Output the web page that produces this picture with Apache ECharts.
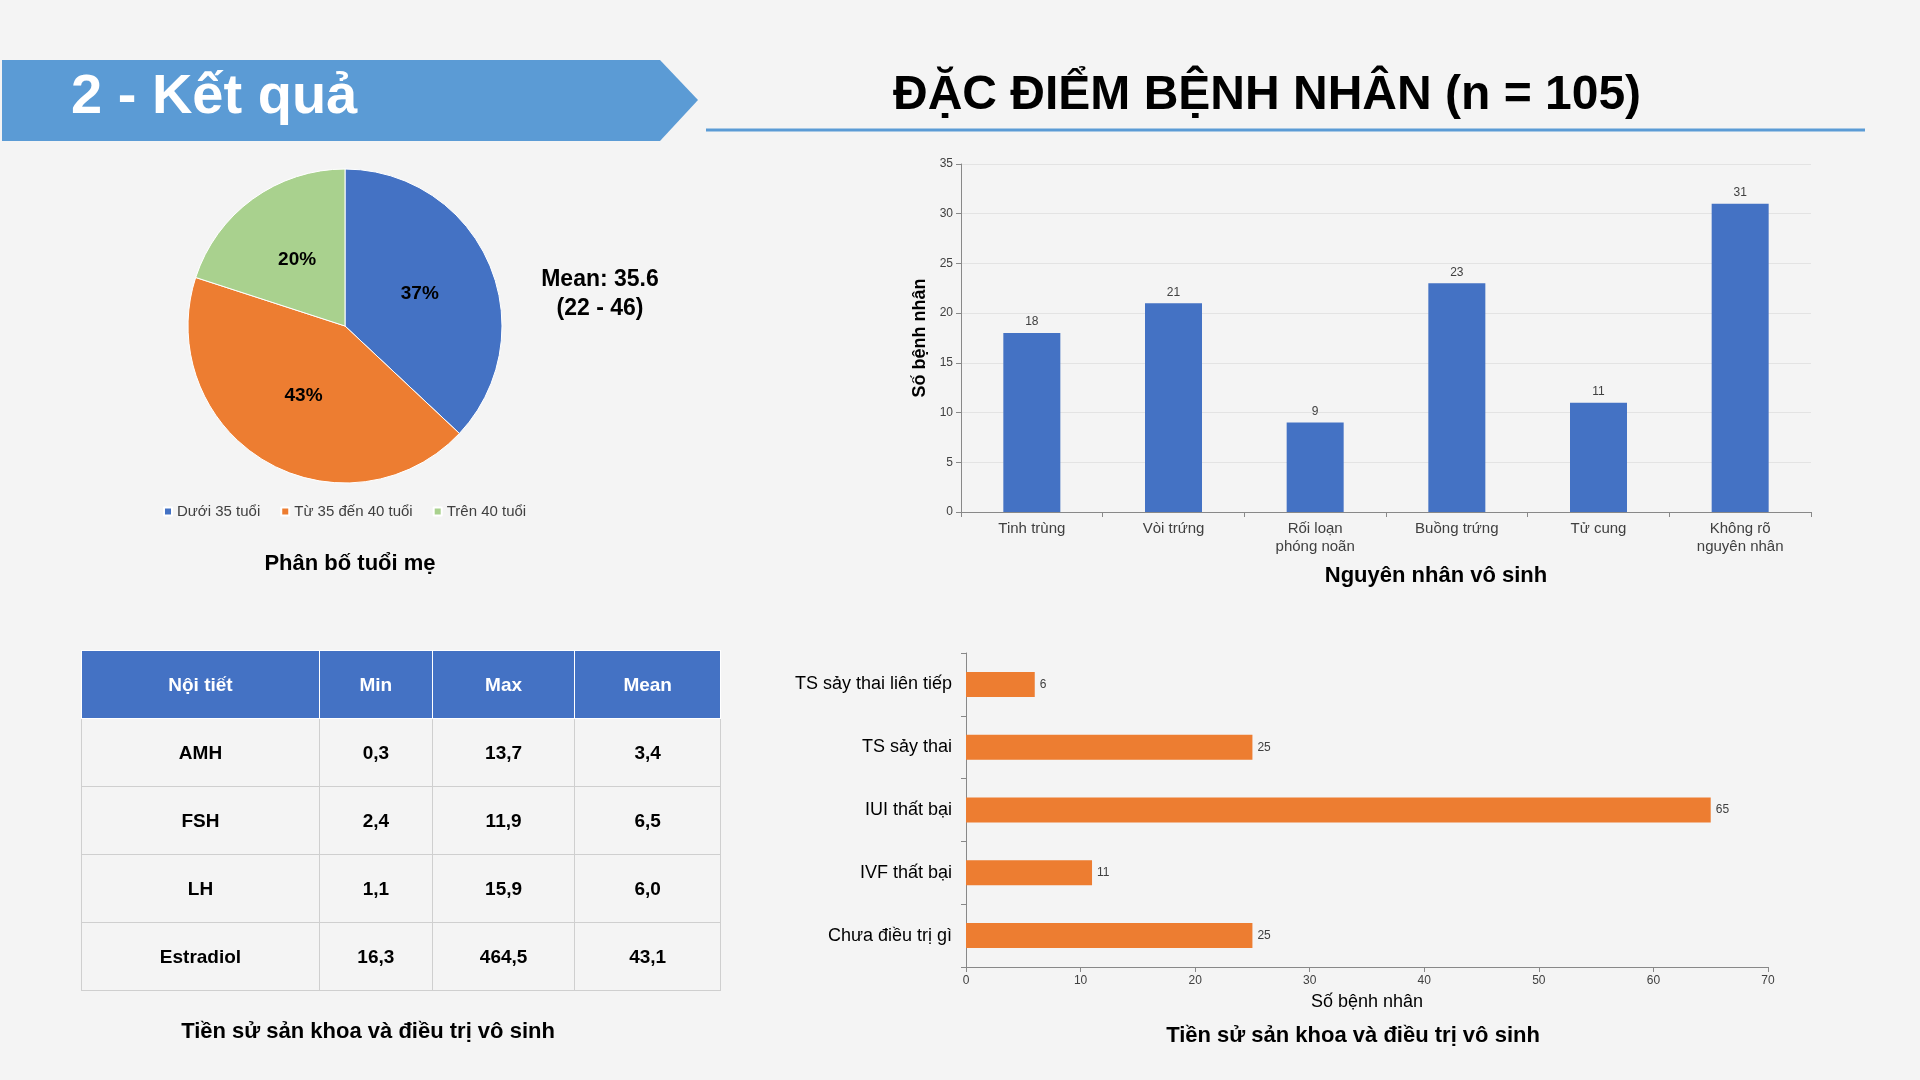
<!DOCTYPE html>
<html>
<head>
<meta charset="utf-8">
<script src="https://cdn.jsdelivr.net/npm/echarts@6/dist/echarts.min.js"></script>
<style>
  html, body { margin: 0; padding: 0; background: #f4f4f4; font-family: "Liberation Sans", Arial, sans-serif; }
  #main { position: absolute; left: 0; top: 0; width: 1920px; height: 1080px; }
  #tbl { position: absolute; left: 81px; top: 650px; width: 640px; border-collapse: collapse; font-size: 19px; }
  #tbl td, #tbl th { border: 1px solid #cfcfcf; height: 65px; text-align: center; color: #000; font-weight: bold; }
  #tbl th { background: #4472c4; color: #fff; border-color: #fff; }
</style>
</head>
<body>
<div id="main"></div>
<table id="tbl"></table>
<script type="text/javascript">
    // dữ liệu
    var ageNames = ['Dưới 35 tuổi', 'Từ 35 đến 40 tuổi', 'Trên 40 tuổi'];
    var ageValues = [37, 43, 20];
    var causeNames = ['Tinh trùng', 'Vòi trứng', 'Rối loạn\nphóng noãn', 'Buồng trứng', 'Tử cung', 'Không rõ\nnguyên nhân'];
    var causeValues = [18, 21, 9, 23, 11, 31];
    var historyNames = ['Chưa điều trị gì', 'IVF thất bại', 'IUI thất bại', 'TS sảy thai', 'TS sảy thai liên tiếp'];
    var historyValues = [25, 11, 65, 25, 6];
    var tableHead = ['Nội tiết', 'Min', 'Max', 'Mean'];
    var tableRows = [
        ['AMH', '0,3', '13,7', '3,4'],
        ['FSH', '2,4', '11,9', '6,5'],
        ['LH', '1,1', '15,9', '6,0'],
        ['Estradiol', '16,3', '464,5', '43,1']
    ];

    var html = '<tr>' + tableHead.map(function (h) { return '<th>' + h + '</th>'; }).join('') + '</tr>';
    tableRows.forEach(function (r) {
        html += '<tr>' + r.map(function (c) { return '<td>' + c + '</td>'; }).join('') + '</tr>';
    });
    document.getElementById('tbl').innerHTML = html;

    var pieColors = ['#4472c4', '#ed7d31', '#a9d18e'];
    var font = 'Liberation Sans';
    var myChart = echarts.init(document.getElementById('main'));
    var option = {
        animation: false,
        textStyle: { fontFamily: font },
        graphic: [
            { type: 'polygon', shape: { points: [[2, 60], [660, 60], [698, 100], [660, 141], [2, 141]] }, style: { fill: '#5b9bd5' } },
            { type: 'text', left: 71, top: 70, style: { text: '2 - Kết quả', fill: '#fff', font: 'bold 56px ' + font } },
            { type: 'text', left: 893, top: 72, style: { text: 'ĐẶC ĐIỂM BỆNH NHÂN (n = 105)', fill: '#000', font: 'bold 48px ' + font } },
            { type: 'line', shape: { x1: 706, y1: 130, x2: 1865, y2: 130 }, style: { stroke: '#5b9bd5', lineWidth: 3 } },
            { type: 'text', x: 600, y: 265, style: { text: 'Mean: 35.6\n(22 - 46)', fill: '#000', font: 'bold 23px ' + font, align: 'center', lineHeight: 29, x: 0 } },
            { type: 'text', x: 350, y: 553, style: { text: 'Phân bố tuổi mẹ', fill: '#000', font: 'bold 22px ' + font, align: 'center' } },
            { type: 'text', x: 1436, y: 565, style: { text: 'Nguyên nhân vô sinh', fill: '#000', font: 'bold 22px ' + font, align: 'center' } },
            { type: 'text', x: 368, y: 1021, style: { text: 'Tiền sử sản khoa và điều trị vô sinh', fill: '#000', font: 'bold 22px ' + font, align: 'center' } },
            { type: 'text', x: 1353, y: 1025, style: { text: 'Tiền sử sản khoa và điều trị vô sinh', fill: '#000', font: 'bold 22px ' + font, align: 'center' } }
        ],
        legend: {
            data: ageNames, left: 158, top: 499, itemWidth: 8, itemHeight: 8, itemGap: 20,
            icon: 'rect', textStyle: { fontSize: 15, color: '#404040' }
        },
        grid: [
            { left: 961, top: 164, width: 850, height: 348 },
            { left: 966, top: 653, width: 802, height: 314 }
        ],
        xAxis: [
            {
                gridIndex: 0, type: 'category', data: causeNames,
                axisLine: { lineStyle: { color: '#888' } }, axisTick: { show: true, lineStyle: { color: '#888' } },
                axisLabel: { color: '#404040', fontSize: 15, lineHeight: 18, interval: 0 }
            },
            {
                gridIndex: 1, type: 'value', min: 0, max: 70, interval: 10,
                name: 'Số bệnh nhân', nameLocation: 'middle', nameGap: 26, nameTextStyle: { fontSize: 18, color: '#000' },
                axisLine: { show: true, lineStyle: { color: '#888' } }, axisTick: { show: true },
                splitLine: { show: false }, axisLabel: { color: '#404040', fontSize: 12 }
            }
        ],
        yAxis: [
            {
                gridIndex: 0, type: 'value', min: 0, max: 35, interval: 5,
                name: 'Số bệnh nhân', nameLocation: 'middle', nameGap: 32, nameTextStyle: { fontSize: 18, fontWeight: 'bold', color: '#000' },
                axisLine: { show: true, lineStyle: { color: '#888' } }, axisTick: { show: true },
                splitLine: { lineStyle: { color: '#e3e3e3' } }, axisLabel: { color: '#404040', fontSize: 12 }
            },
            {
                gridIndex: 1, type: 'category', data: historyNames,
                axisLine: { lineStyle: { color: '#888' } }, axisTick: { show: true },
                axisLabel: { color: '#000', fontSize: 18, margin: 14 }
            }
        ],
        series: [
            {
                type: 'pie', center: [345, 326], radius: 157, startAngle: 90, clockwise: true,
                data: ageNames.map(function (n, i) { return { name: n, value: ageValues[i], itemStyle: { color: pieColors[i] } }; }),
                itemStyle: { borderColor: '#fff', borderWidth: 1 },
                label: { position: 'inside', formatter: '{c}%', fontSize: 19, fontWeight: 'bold', color: '#000' },
                labelLine: { show: false }
            },
            {
                type: 'bar', xAxisIndex: 0, yAxisIndex: 0, data: causeValues, barWidth: 57,
                itemStyle: { color: '#4472c4' },
                label: { show: true, position: 'top', fontSize: 12, color: '#404040' }
            },
            {
                type: 'bar', xAxisIndex: 1, yAxisIndex: 1, data: historyValues, barWidth: 25,
                itemStyle: { color: '#ed7d31' },
                label: { show: true, position: 'right', fontSize: 12, color: '#404040' }
            }
        ]
    };
    myChart.setOption(option);
</script>
</body>
</html>
